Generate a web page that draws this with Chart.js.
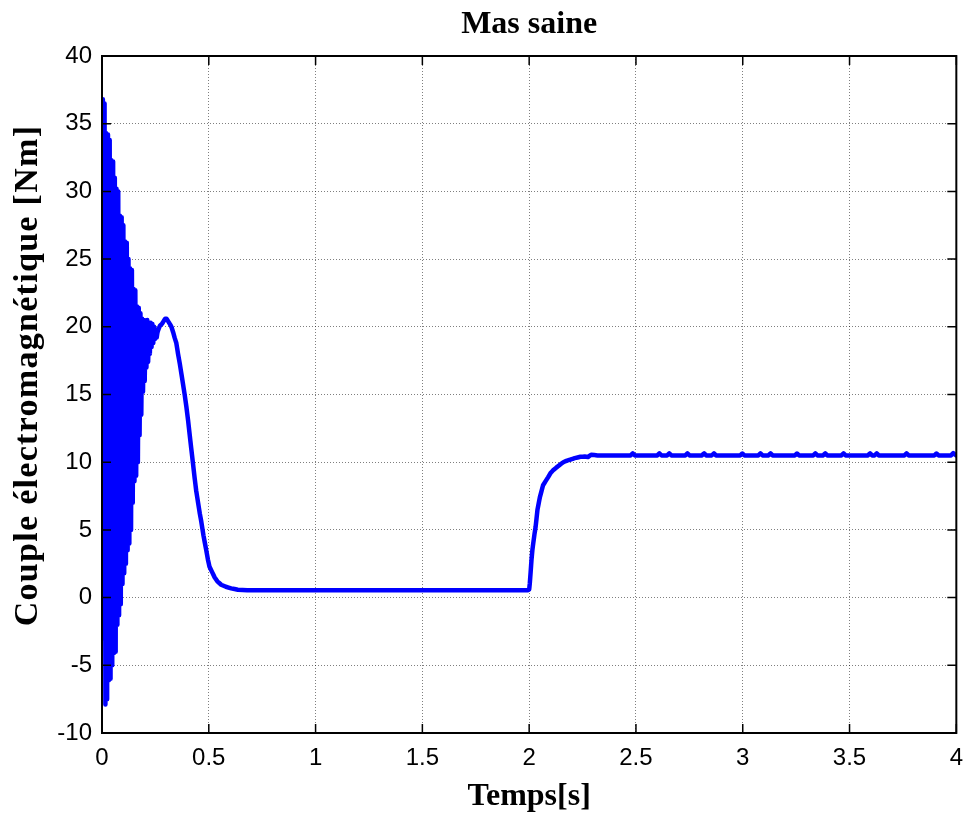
<!DOCTYPE html>
<html>
<head>
<meta charset="utf-8">
<title>Mas saine</title>
<script src="https://cdn.jsdelivr.net/npm/chart.js@4.4.1/dist/chart.umd.min.js"></script>
<style>
  html, body { margin: 0; padding: 0; background: #fff; }
  #wrap { width: 974px; height: 816px; }
</style>
</head>
<body>
<div id="wrap"><canvas id="couple" width="974" height="816"></canvas></div>
<script>
(function () {
	'use strict';

	// axis ticks
	var xTicks = [0, 0.5, 1, 1.5, 2, 2.5, 3, 3.5, 4];
	var yTicks = [-10, -5, 0, 5, 10, 15, 20, 25, 30, 35, 40];

	var yLabel = 'Couple électromagnétique [Nm]';

	// ——— start-up: torque oscillation (half periods) ———
	var startTime = [
		0.000, 0.004, 0.008, 0.012, 0.016, 0.020, 0.024, 0.028, 0.032, 0.036,
		0.040, 0.044, 0.048, 0.052, 0.056, 0.060, 0.064, 0.068, 0.072, 0.076,
		0.080, 0.084, 0.088, 0.092, 0.096, 0.100, 0.104, 0.108, 0.112, 0.116,
		0.120, 0.124, 0.128, 0.132, 0.136, 0.140, 0.144, 0.148, 0.152, 0.156,
		0.160, 0.164, 0.168, 0.172, 0.176, 0.180, 0.184, 0.188, 0.192, 0.196,
		0.200, 0.204, 0.208, 0.212, 0.216, 0.220, 0.224, 0.228, 0.232, 0.236,
		0.240, 0.244, 0.248, 0.252, 0.256, 0.260
	];
	var startTorque = [
		0, 36.8, -3.0, 36.5, -7.9, 34.3, -7.5, 34.2, -6.1, 33.8,
		-6.0, 32.3, -5.0, 32.2, -4.1, 31.0, -4.0, 30.2, -2.0, 30.0,
		-1.3, 28.2, -0.5, 28.1, 1.0, 27.5, 1.8, 26.3, 2.5, 26.2,
		3.5, 25.0, 4.0, 24.3, 5.0, 24.2, 7.0, 22.8, 8.6, 22.7,
		9.0, 21.5, 10.0, 21.4, 12.0, 21.0, 13.5, 20.6, 15.2, 20.5,
		16.0, 20.4, 17.0, 20.5, 17.4, 20.0, 18.0, 20.3, 18.5, 20.2,
		18.8, 20.0, 19.1, 19.8, 19.2, 19.6
	];

	// ——— no-load decay ———
	var decayTime = [
		0.264, 0.272, 0.280, 0.288, 0.296, 0.302, 0.310, 0.318, 0.325, 0.333,
		0.340, 0.348, 0.356, 0.364, 0.372, 0.379, 0.387, 0.395, 0.403, 0.410,
		0.418, 0.426, 0.434, 0.441, 0.450, 0.458, 0.465, 0.475, 0.488, 0.496,
		0.503, 0.515, 0.527, 0.540, 0.558, 0.580, 0.605, 0.636, 0.680
	];
	var decayTorque = [
		19.8, 20.1, 20.2, 20.4, 20.6, 20.6, 20.4, 20.2, 20.0, 19.6,
		19.2, 18.8, 18.0, 17.3, 16.5, 15.8, 15.0, 14.1, 13.1, 12.1,
		11.0, 9.9, 8.8, 7.9, 7.0, 6.2, 5.6, 4.6, 3.5, 2.8,
		2.3, 1.9, 1.5, 1.2, 0.95, 0.8, 0.68, 0.58, 0.55
	];

	// ——— load applied at t = 2 s ———
	var loadTime = [
		1.995, 2.000, 2.003, 2.007, 2.011, 2.015, 2.019, 2.025, 2.030, 2.039,
		2.050, 2.065, 2.077, 2.089, 2.100, 2.112, 2.127, 2.143, 2.160, 2.174,
		2.195, 2.213, 2.240, 2.260, 2.275, 2.290, 2.320, 2.400,
		2.475, 2.485, 2.495, 2.600, 2.609, 2.620, 2.646, 2.656, 2.666,
		2.731, 2.741, 2.751, 2.809, 2.819, 2.829, 2.855, 2.865, 2.875,
		2.988, 2.998, 3.008, 3.073, 3.083, 3.093, 3.120, 3.130, 3.140,
		3.244, 3.254, 3.264, 3.330, 3.340, 3.350, 3.376, 3.386, 3.396,
		3.462, 3.472, 3.482, 3.586, 3.596, 3.606, 3.617, 3.627, 3.637,
		3.757, 3.767, 3.777, 3.897, 3.907, 3.917, 3.975, 3.985, 4.000
	];
	var loadTorque = [
		0.55, 0.6, 1.05, 1.9, 2.8, 3.5, 4.0, 4.7, 5.2, 6.5,
		7.4, 8.3, 8.6, 8.9, 9.2, 9.4, 9.6, 9.8, 10.0, 10.1,
		10.2, 10.3, 10.4, 10.42, 10.38, 10.55, 10.5, 10.5,
		10.5, 10.65, 10.5, 10.5, 10.66, 10.5, 10.5, 10.65, 10.5,
		10.5, 10.65, 10.5, 10.5, 10.66, 10.5, 10.5, 10.66, 10.5,
		10.5, 10.64, 10.5, 10.5, 10.65, 10.5, 10.5, 10.66, 10.5,
		10.5, 10.64, 10.5, 10.5, 10.65, 10.5, 10.5, 10.66, 10.5,
		10.5, 10.65, 10.5, 10.5, 10.66, 10.5, 10.5, 10.66, 10.5,
		10.5, 10.65, 10.5, 10.5, 10.64, 10.5, 10.5, 10.68, 10.5
	];

	function toPoints(ts, vs) {
		return ts.map(function (t, i) { return { x: t, y: vs[i] }; });
	}

	var points = toPoints(startTime, startTorque)
		.concat(toPoints(decayTime, decayTorque))
		.concat(toPoints(loadTime, loadTorque));

	var serif = '"Liberation Serif", "Times New Roman", serif';
	var sans = '"Liberation Sans", Arial, sans-serif';

	// matlab style box with inward ticks on all four sides, plus the y label
	var matlabBox = {
		id: 'matlabBox',
		afterDraw: function (chart) {
			var ctx = chart.ctx;
			var a = chart.chartArea;
			var xs = chart.scales.x;
			var ys = chart.scales.y;
			var len = 9;
			ctx.save();
			ctx.strokeStyle = '#000';
			ctx.lineWidth = 1.5;
			ctx.beginPath();
			xTicks.forEach(function (v) {
				var px = xs.getPixelForValue(v);
				ctx.moveTo(px, a.bottom); ctx.lineTo(px, a.bottom - len);
				ctx.moveTo(px, a.top); ctx.lineTo(px, a.top + len);
			});
			yTicks.forEach(function (v) {
				var py = ys.getPixelForValue(v);
				ctx.moveTo(a.left, py); ctx.lineTo(a.left + len, py);
				ctx.moveTo(a.right, py); ctx.lineTo(a.right - len, py);
			});
			ctx.stroke();
			ctx.lineWidth = 2;
			ctx.strokeRect(a.left, a.top, a.right - a.left, a.bottom - a.top);

			// y axis label, sits a bit above the axis centre like the original
			ctx.translate(28, ys.getPixelForValue(16.4));
			ctx.rotate(-Math.PI / 2);
			ctx.fillStyle = '#000';
			ctx.font = 'bold 34px ' + serif;
			ctx.letterSpacing = '1.3px';
			ctx.textAlign = 'center';
			ctx.textBaseline = 'middle';
			ctx.fillText(yLabel, 0, 0);
			ctx.restore();
		}
	};

	new Chart(document.getElementById('couple').getContext('2d'), {
		type: 'line',
		data: {
			datasets: [{
				label: 'Couple',
				data: points,
				borderColor: '#0000ff',
				borderWidth: 4.5,
				borderJoinStyle: 'round',
				borderCapStyle: 'round',
				pointRadius: 0,
				fill: false,
				tension: 0.0001
			}]
		},
		options: {
			responsive: false,
			animation: false,
			layout: { padding: { left: 0, right: 14, top: 0, bottom: 0 } },
			plugins: {
				legend: { display: false },
				tooltip: { enabled: false },
				title: {
					display: true,
					fullSize: false,
					text: 'Mas saine',
					color: '#000',
					font: { family: serif, size: 32, weight: 'bold', lineHeight: 1.2 },
					padding: { top: 6, bottom: 11.6 }
				}
			},
			scales: {
				x: {
					type: 'linear',
					min: 0,
					max: 4,
					afterBuildTicks: function (s) { s.ticks = xTicks.map(function (v) { return { value: v }; }); },
					afterFit: function (s) { s.height = 83; },
					ticks: {
						color: '#000',
						padding: 11,
						font: { family: sans, size: 24 },
						maxRotation: 0,
						autoSkip: false,
						callback: function (v) { return String(v); }
					},
					grid: { color: 'rgba(0,0,0,0.5)', lineWidth: 1, drawTicks: false },
					border: { display: false, dash: [1, 2] },
					title: {
						display: true,
						text: 'Temps[s]',
						color: '#000',
						font: { family: serif, size: 32, weight: 'bold', lineHeight: 1.2 },
						padding: { top: 6, bottom: 0 }
					}
				},
				y: {
					type: 'linear',
					min: -10,
					max: 40,
					afterBuildTicks: function (s) { s.ticks = yTicks.map(function (v) { return { value: v }; }); },
					afterFit: function (s) { s.width = 102; },
					ticks: {
						color: '#000',
						padding: 10,
						font: { family: sans, size: 24 },
						autoSkip: false,
						callback: function (v) { return String(v); }
					},
					grid: { color: 'rgba(0,0,0,0.5)', lineWidth: 1, drawTicks: false },
					border: { display: false, dash: [1, 2] }
				}
			}
		},
		plugins: [matlabBox]
	});
})();
</script>
</body>
</html>
